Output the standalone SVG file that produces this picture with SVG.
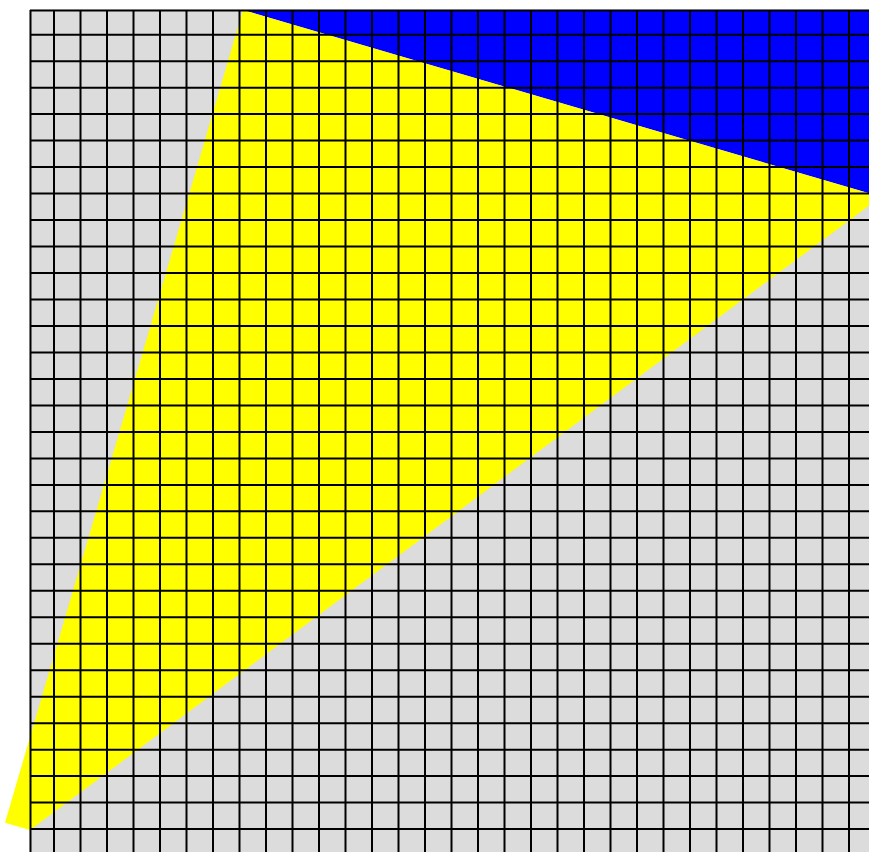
<svg xmlns="http://www.w3.org/2000/svg" width="869" height="852" viewBox="0 0 869 852">
<style>
.grid{stroke:#000;stroke-width:2;fill:none}
</style>
<rect x="0" y="0" width="869" height="852" fill="#fff"/>
<rect id="board" x="29.5" y="9.5" width="845" height="850" fill="#dcdcdc"/>
<polygon id="blue" points="243,10 885,10 885,198" fill="#0000ff"/>
<polygon id="yellow" points="243,10 5,822.7 30,830 881,196.8" fill="#ffff00"/>
<g id="gridlines" class="grid">
<path d="M30.5,10V852M54,10V852M80.5,10V852M107,10V852M133.5,10V852M160,10V852M186.5,10V852M213,10V852M239.5,10V852M266,10V852M292.5,10V852M319,10V852M345.5,10V852M372,10V852M398.5,10V852M425,10V852M451.5,10V852M478,10V852M504.5,10V852M531,10V852M557.5,10V852M584,10V852M610.5,10V852M637,10V852M663.5,10V852M690,10V852M716.5,10V852M743,10V852M769.5,10V852M796,10V852M822.5,10V852M849,10V852"/>
<path d="M30,10.5H869M30,34.7H869M30,61.2H869M30,87.7H869M30,114.1H869M30,140.6H869M30,167.1H869M30,193.6H869M30,220.1H869M30,246.5H869M30,273H869M30,299.5H869M30,326H869M30,352.5H869M30,378.9H869M30,405.4H869M30,431.9H869M30,458.4H869M30,484.9H869M30,511.3H869M30,537.8H869M30,564.3H869M30,590.8H869M30,617.3H869M30,643.7H869M30,670.2H869M30,696.7H869M30,723.2H869M30,749.7H869M30,776.1H869M30,802.6H869M30,829.1H869"/>
</g>
</svg>
